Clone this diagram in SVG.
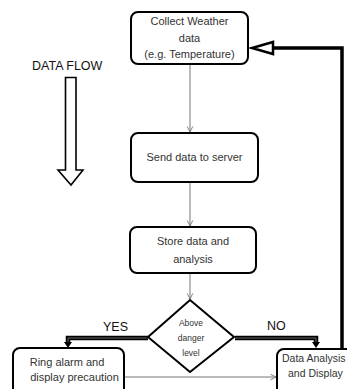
<svg xmlns="http://www.w3.org/2000/svg" width="347" height="389" viewBox="0 0 347 389">
<defs>
<style>
.box{fill:#fff;stroke:#000;stroke-width:2}
.t{font-family:"Liberation Sans",Arial,sans-serif;font-size:11px;fill:#333;text-anchor:middle}
.s{font-family:"Liberation Sans",Arial,sans-serif;font-size:8.5px;fill:#333;text-anchor:middle}
.lbl{font-family:"Liberation Sans",Arial,sans-serif;font-size:12.5px;fill:#111}
.thin{fill:none;stroke:#777;stroke-width:1;marker-end:url(#v)}
.thickO{fill:none;stroke:#000;stroke-width:4.5}
.thickI{fill:none;stroke:#666;stroke-width:1}
</style>
<marker id="v" viewBox="0 0 10 10" refX="9" refY="5" markerWidth="7" markerHeight="7" orient="auto" markerUnits="userSpaceOnUse">
<path d="M1,1 L9,5 L1,9" fill="none" stroke="#777" stroke-width="1.3"/>
</marker>
</defs>
<rect width="347" height="389" fill="#fff"/>

<g id="connectors">
<line class="thin" x1="190" y1="64" x2="190" y2="132"/>
<line class="thin" x1="190" y1="182" x2="190" y2="226"/>
<line class="thin" x1="190" y1="273" x2="190" y2="299"/>
<line class="thin" x1="124" y1="377" x2="276" y2="377"/>
<path class="thickO" d="M148,338 H68 V343"/>
<path class="thickI" d="M148,338 H68 V343"/>
<polygon points="64,342 72,342 68,348" fill="#000"/>
<path class="thickO" d="M235,338 H316 V343"/>
<path class="thickI" d="M235,338 H316 V343"/>
<polygon points="312,342 320,342 316,348" fill="#000"/>
<path d="M342,349 V48 H273" fill="none" stroke="#000" stroke-width="3.5"/>
<polygon points="273,42 273,54 252,48" fill="#fff" stroke="#000" stroke-width="2.5"/>
</g>

<g id="dataflow">
<text class="lbl" x="32" y="70" font-size="12">DATA FLOW</text>
<path d="M65.5,77.5 H76 V170 H83 L71,185 L58,170 H65.5 Z" fill="#fff" stroke="#000" stroke-width="1.6"/>
</g>

<g id="collect">
<rect class="box" x="131" y="12" width="117" height="52" rx="7"/>
<text class="t" x="189.5" y="25">Collect  Weather</text>
<text class="t" x="189.5" y="42">data</text>
<text class="t" x="189.5" y="58">(e.g. Temperature)</text>
</g>

<g id="send">
<rect class="box" x="131" y="133" width="127" height="49" rx="7"/>
<text class="t" x="194.5" y="161">Send data to server</text>
</g>

<g id="store">
<rect class="box" x="130" y="227" width="126" height="46" rx="7"/>
<text class="t" x="193" y="245">Store data and</text>
<text class="t" x="193" y="263">analysis</text>
</g>

<g id="decision">
<polygon points="190,300 234,337 190,372 148,337" fill="#fff" stroke="#000" stroke-width="2"/>
<text class="s" x="191" y="326">Above</text>
<text class="s" x="191" y="341">danger</text>
<text class="s" x="191" y="356">level</text>
</g>

<text class="lbl" x="103" y="331">YES</text>
<text class="lbl" x="267" y="330">NO</text>

<g id="alarm">
<rect class="box" x="13" y="348" width="111" height="48" rx="7"/>
<text class="t" x="67" y="366">Ring alarm and</text>
<text class="t" x="74.5" y="381">display precaution</text>
</g>

<g id="analysis">
<rect class="box" x="277" y="349" width="90" height="48" rx="7"/>
<text class="t" x="282" y="362" style="text-anchor:start;font-size:10.5px">Data Analysis</text>
<text class="t" x="288" y="377" style="text-anchor:start;font-size:10.5px">and  Display</text>
</g>
</svg>
